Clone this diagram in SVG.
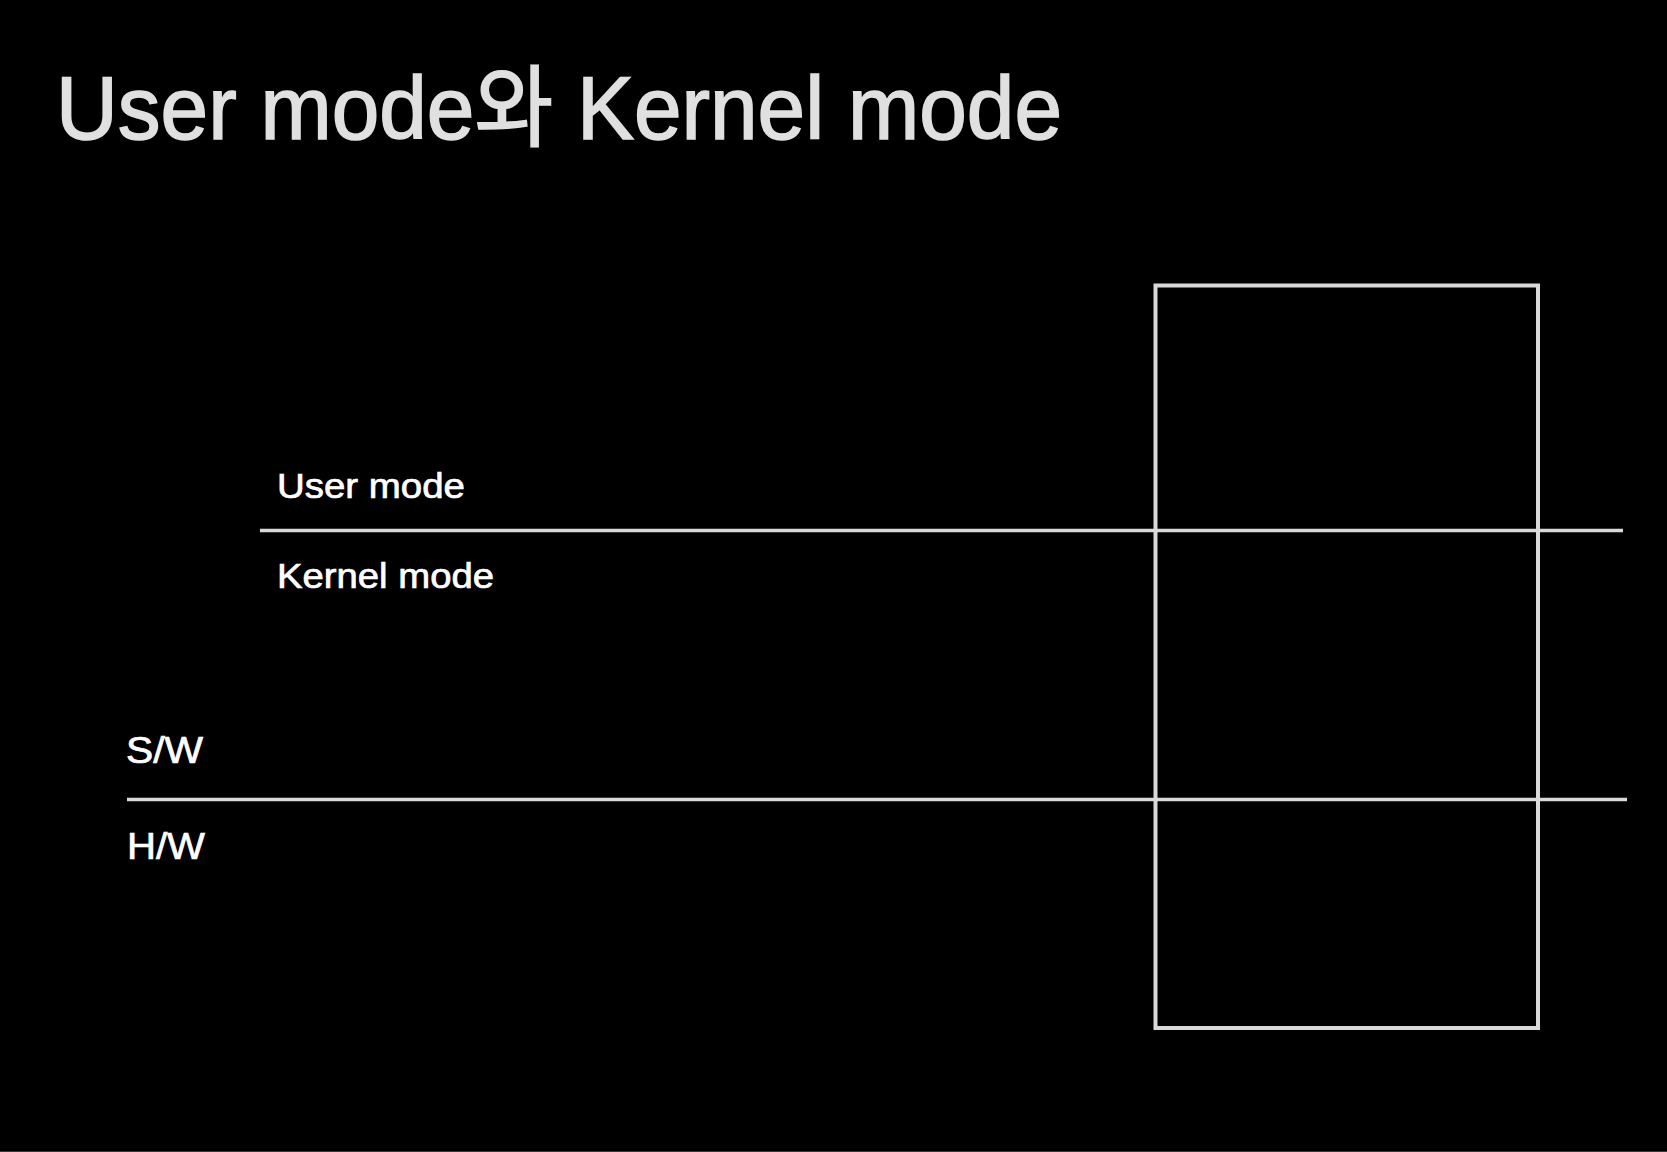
<svg xmlns="http://www.w3.org/2000/svg" width="1667" height="1152" viewBox="0 0 1667 1152">
  <style>
    .ttl { font-family: "Liberation Sans", "Noto Sans CJK KR", sans-serif; fill: #e0e0e0; stroke: #e0e0e0; stroke-width: 1.6; }
    .lbl { font-family: "Liberation Sans", "Noto Sans CJK KR", sans-serif; fill: #ffffff; stroke: #ffffff; stroke-width: 0.7; }
    .ln { stroke: #d9d9d9; stroke-width: 3.5; fill: none; }
    .box { stroke: #d9d9d9; stroke-width: 4; fill: none; }
  </style>
  <rect x="0" y="0" width="1667" height="1152" fill="#000000"/>
  <line x1="0" y1="1151.5" x2="1667" y2="1151.5" stroke="#3a3a3a" stroke-width="1"/>
  <g id="title">
    <text class="ttl" x="56" y="139" font-size="89" textLength="1006" lengthAdjust="spacingAndGlyphs">User mode와 Kernel mode</text>
  </g>
  <g id="box">
    <rect class="box" x="1155.5" y="285.5" width="382.5" height="742.5"/>
  </g>
  <g id="connectors">
    <line class="ln" x1="260" y1="530.5" x2="1623" y2="530.5"/>
    <line class="ln" x1="127" y1="799.5" x2="1627" y2="799.5"/>
  </g>
  <g id="user-mode">
    <text class="lbl" x="277" y="498" font-size="35" textLength="188" lengthAdjust="spacingAndGlyphs">User mode</text>
  </g>
  <g id="kernel-mode">
    <text class="lbl" x="277" y="588" font-size="35" textLength="217" lengthAdjust="spacingAndGlyphs">Kernel mode</text>
  </g>
  <g id="sw">
    <text class="lbl" x="126" y="763" font-size="36" textLength="77" lengthAdjust="spacingAndGlyphs">S/W</text>
  </g>
  <g id="hw">
    <text class="lbl" x="127" y="859" font-size="36" textLength="78" lengthAdjust="spacingAndGlyphs">H/W</text>
  </g>
</svg>
